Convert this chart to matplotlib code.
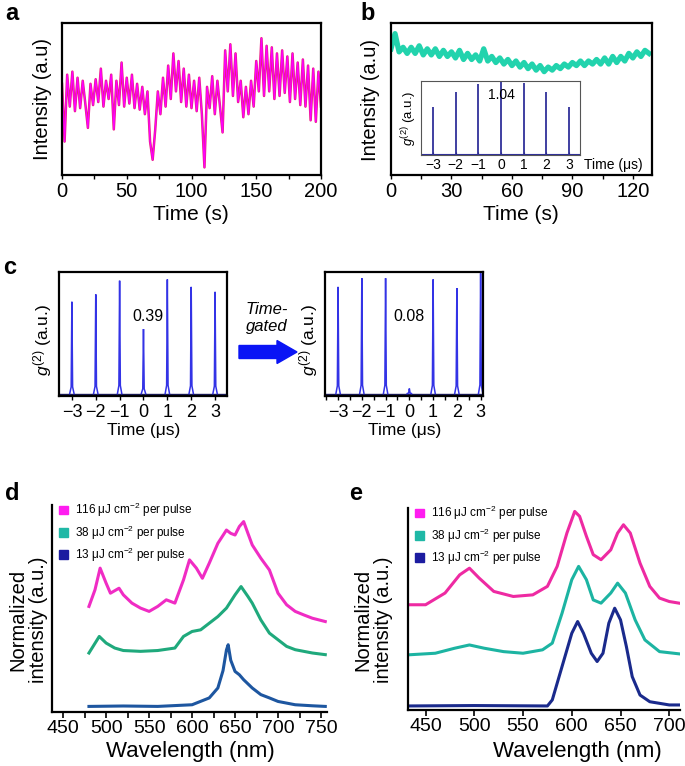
import matplotlib.pyplot as plt
from matplotlib.patches import Patch, FancyArrow
from matplotlib.ticker import MultipleLocator

plt.rcParams['font.family'] = ['Liberation Sans', 'DejaVu Sans']
plt.rcParams['mathtext.fontset'] = 'custom'
plt.rcParams['mathtext.rm'] = 'Liberation Sans'
plt.rcParams['mathtext.it'] = 'Liberation Sans:italic'

W, H = 685, 766

# ---- data (intensities normalised to axis height) ----
# a: blinking trace
a_time = list(range(0, 201, 2))
a_int = [0.60, 0.22, 0.66, 0.45, 0.68, 0.42, 0.64, 0.44, 0.62, 0.47,
         0.31, 0.60, 0.46, 0.63, 0.48, 0.70, 0.45, 0.62, 0.50, 0.66,
         0.30, 0.62, 0.46, 0.74, 0.45, 0.64, 0.47, 0.66, 0.44, 0.60,
         0.43, 0.58, 0.40, 0.55, 0.22, 0.10, 0.30, 0.55, 0.40, 0.64,
         0.45, 0.72, 0.50, 0.80, 0.55, 0.75, 0.48, 0.70, 0.45, 0.66,
         0.44, 0.62, 0.42, 0.64, 0.40, 0.05, 0.58, 0.44, 0.65, 0.40,
         0.62, 0.45, 0.28, 0.82, 0.55, 0.86, 0.52, 0.80, 0.48, 0.62,
         0.38, 0.58, 0.40, 0.62, 0.45, 0.75, 0.55, 0.90, 0.52, 0.85,
         0.55, 0.84, 0.50, 0.80, 0.52, 0.82, 0.54, 0.78, 0.48, 0.80,
         0.50, 0.74, 0.46, 0.76, 0.45, 0.72, 0.36, 0.70, 0.35, 0.68,
         0.45]

# b: stable trace
b_time = list(range(0, 129, 2))
b_int = [0.83, 0.93, 0.81, 0.84, 0.80, 0.84, 0.80, 0.85, 0.79, 0.83,
         0.79, 0.83, 0.78, 0.82, 0.78, 0.81, 0.77, 0.82, 0.76, 0.80,
         0.76, 0.79, 0.75, 0.83, 0.75, 0.78, 0.74, 0.77, 0.73, 0.76,
         0.72, 0.75, 0.71, 0.74, 0.70, 0.73, 0.69, 0.72, 0.68, 0.71,
         0.69, 0.72, 0.70, 0.73, 0.71, 0.74, 0.72, 0.75, 0.72, 0.75,
         0.73, 0.76, 0.73, 0.77, 0.73, 0.78, 0.74, 0.78, 0.75, 0.80,
         0.77, 0.81, 0.78, 0.82, 0.80]

# g2 peaks
delay = [-3, -2, -1, 0, 1, 2, 3]
b_g2 = [0.65, 0.85, 0.96, 0.99, 0.97, 0.85, 0.65]
c_g2_before = [0.76, 0.82, 0.93, 0.54, 0.94, 0.88, 0.84]
c_g2_after = [0.88, 0.95, 0.95, 0.06, 0.94, 0.87, 0.99]

# d: spectra (wavelength nm, normalised intensity)
d_wl_hi = [480, 487, 493, 500, 505, 515, 520, 530, 540, 550, 560, 570, 580, 590,
           597, 605, 612, 620, 630, 640, 645, 650, 655, 660, 665, 670, 680, 690,
           700, 710, 720, 730, 740, 755]
d_hi = [0.51, 0.59, 0.695, 0.622, 0.574, 0.598, 0.566, 0.526, 0.502, 0.486,
        0.51, 0.542, 0.526, 0.638, 0.735, 0.695, 0.646, 0.719, 0.815, 0.879,
        0.863, 0.855, 0.896, 0.92, 0.863, 0.807, 0.743, 0.686, 0.574, 0.518,
        0.486, 0.469, 0.453, 0.437]
d_wl_mid = [480, 492, 500, 510, 520, 540, 560, 580, 590, 600, 610, 620, 630, 640,
            650, 657, 665, 670, 680, 690, 700, 710, 720, 740, 755]
d_mid = [0.285, 0.365, 0.333, 0.309, 0.297, 0.293, 0.297, 0.309, 0.365, 0.389,
         0.397, 0.429, 0.461, 0.502, 0.566, 0.606, 0.558, 0.526, 0.445, 0.381,
         0.349, 0.317, 0.301, 0.285, 0.277]
d_wl_lo = [480, 520, 560, 600, 620, 630, 636, 640, 642, 645, 650, 655, 660, 670,
           680, 690, 700, 720, 740, 755]
d_lo = [0.027, 0.029, 0.027, 0.035, 0.068, 0.116, 0.20, 0.30, 0.325, 0.25,
        0.196, 0.18, 0.156, 0.116, 0.084, 0.068, 0.051, 0.035, 0.03, 0.027]

# e: spectra
e_wl_hi = [432, 450, 470, 485, 495, 505, 520, 540, 560, 575, 585, 595, 603, 608,
           615, 622, 630, 640, 647, 653, 660, 670, 680, 690, 700, 710]
e_hi = [0.521, 0.521, 0.579, 0.669, 0.702, 0.653, 0.587, 0.562, 0.57, 0.612,
        0.711, 0.876, 0.983, 0.959, 0.86, 0.769, 0.744, 0.793, 0.876, 0.917,
        0.876, 0.727, 0.612, 0.554, 0.537, 0.529]
e_wl_mid = [432, 460, 480, 495, 510, 530, 550, 570, 580, 590, 600, 607, 615, 622,
            630, 640, 647, 655, 665, 675, 690, 710]
e_mid = [0.273, 0.281, 0.306, 0.322, 0.306, 0.289, 0.281, 0.298, 0.331, 0.479,
         0.645, 0.711, 0.645, 0.545, 0.529, 0.579, 0.628, 0.579, 0.446, 0.347,
         0.289, 0.278]
e_wl_lo = [432, 500, 575, 580, 590, 600, 606, 612, 620, 626, 632, 638, 644, 650,
           656, 662, 670, 680, 700, 710]
e_lo = [0.02, 0.022, 0.02, 0.05, 0.215, 0.38, 0.438, 0.38, 0.281, 0.24,
        0.281, 0.43, 0.504, 0.446, 0.314, 0.165, 0.074, 0.041, 0.025, 0.025]

legend_labels = ['116 \u03bcJ cm$^{-2}$ per pulse', '38 \u03bcJ cm$^{-2}$ per pulse',
                 '13 \u03bcJ cm$^{-2}$ per pulse']
legend_colors = ['#ff1cf0', '#1fb8a6', '#1c1ca0']
delay_labels = ['\u22123', '\u22122', '\u22121', '0', '1', '2', '3']


def rect(l, t, r, b):
    return [l / W, 1 - b / H, (r - l) / W, (b - t) / H]


def ftext(x, y, s, **kw):
    fig.text(x / W, 1 - y / H, s, **kw)


def draw_peaks(ax, pos, heights, color, base=0.02, lw=1.0):
    for p, h in zip(pos, heights):
        ax.plot([p - 0.09, p - 0.03, p, p + 0.03, p + 0.09],
                [base, base + 0.07 * h, h, base + 0.07 * h, base],
                color=color, lw=lw, solid_joinstyle='miter')


fig = plt.figure(figsize=(W / 100, H / 100), dpi=100)

# ---- a ----
ax = fig.add_axes(rect(62, 23, 321, 175))
ax.plot(a_time, a_int, color='#e8207c', lw=1.8)
ax.plot(a_time, a_int, color='#ff00ff', lw=0.9)
ax.set_xlim(0, 200)
ax.set_ylim(0, 1)
ax.set_yticks([])
ax.set_xticks([0, 50, 100, 150, 200])
ax.xaxis.set_minor_locator(MultipleLocator(25))
ax.tick_params(axis='x', which='both', direction='out', length=3, width=1, labelsize=14.5, pad=2)
for s in ax.spines.values():
    s.set_linewidth(1.6)
ftext(191, 214, 'Time (s)', fontsize=15, ha='center', va='center')
ftext(42, 99, 'Intensity (a.u)', fontsize=14.5, ha='center', va='center', rotation=90)
ftext(12, 14, 'a', fontsize=17, fontweight='bold', ha='center', va='center')

# ---- b ----
ax = fig.add_axes(rect(391, 23, 652, 175))
ax.plot(b_time, b_int, color='#22d3ad', lw=3.8)
ax.set_xlim(0, 129.5)
ax.set_ylim(0, 1)
ax.set_yticks([])
ax.set_xticks([0, 30, 60, 90, 120])
ax.xaxis.set_minor_locator(MultipleLocator(15))
ax.tick_params(axis='x', which='both', direction='out', length=3, width=1, labelsize=14.5, pad=2)
for s in ax.spines.values():
    s.set_linewidth(1.6)
ftext(521, 214, 'Time (s)', fontsize=15, ha='center', va='center')
ftext(370, 100, 'Intensity (a.u)', fontsize=14.5, ha='center', va='center', rotation=90)
ftext(368, 14, 'b', fontsize=17, fontweight='bold', ha='center', va='center')

ins = fig.add_axes(rect(421, 81, 580, 155))
ins.vlines(delay, 0, b_g2, color='#30309a', lw=1.3)
ins.axhline(0.01, color='#30309a', lw=0.8)
ins.set_xlim(-3.53, 3.48)
ins.set_ylim(0, 1)
ins.set_yticks([])
ins.set_xticks(delay)
ins.set_xticklabels(delay_labels)
ins.tick_params(axis='x', direction='in', length=2, labelsize=10, pad=2)
for s in ins.spines.values():
    s.set_linewidth(0.8)
    s.set_color('#555555')
ins.text(0.0, 0.81, '1.04', fontsize=10, ha='center', va='center')
ftext(584, 165, 'Time (\u03bcs)', fontsize=10, ha='left', va='center')
ftext(409, 118, '$g^{(2)}$ (a.u.)', fontsize=9.5, ha='center', va='center', rotation=90)

# ---- c ----
for (l, r, xr, vals, txt, txt_x, minor) in [
        (59, 227, (-3.54, 3.5), c_g2_before, '0.39', 0.18, False),
        (325, 483, (-3.55, 3.1), c_g2_after, '0.08', -0.02, True)]:
    ax = fig.add_axes(rect(l, 272, r, 396))
    ax.axhline(0.015, color='#1a1a5a', lw=1.0)
    draw_peaks(ax, delay, vals, '#3333e6', lw=1.1)
    ax.set_xlim(*xr)
    ax.set_ylim(0, 1)
    ax.set_yticks([])
    ax.set_xticks(delay)
    ax.set_xticklabels(delay_labels)
    if minor:
        ax.xaxis.set_minor_locator(MultipleLocator(0.5))
    ax.tick_params(axis='x', which='both', direction='out', length=3, width=1, labelsize=13, pad=3)
    for s in ax.spines.values():
        s.set_linewidth(1.6)
    ax.text(txt_x, 0.64, txt, fontsize=11.5, ha='center', va='center')
    ftext((l + r) / 2 + 0.5, 430, 'Time (\u03bcs)', fontsize=12.5, ha='center', va='center')
    ftext(l - 16, 340, '$g^{(2)}$ (a.u.)', fontsize=12.5, ha='center', va='center', rotation=90)

ftext(10, 267, 'c', fontsize=17, fontweight='bold', ha='center', va='center')
ftext(267, 318, 'Time-\ngated', fontsize=12, style='italic', ha='center', va='center',
      linespacing=1.2)
fig.patches.append(FancyArrow(239 / W, 1 - 352 / H, 38 / W, 0, width=13 / H,
                              head_width=23 / H, head_length=20 / W,
                              length_includes_head=False, color='#0a14f5',
                              transform=fig.transFigure, figure=fig))

# ---- d ----
ax = fig.add_axes(rect(52, 505, 327, 712))
ax.plot(d_wl_hi, d_hi, color='#f02cc4', lw=2.2)
ax.plot(d_wl_mid, d_mid, color='#1fa97c', lw=2.2)
ax.plot(d_wl_lo, d_lo, color='#1d56a0', lw=2.2)
ax.set_xlim(437, 757)
ax.set_ylim(0, 1)
ax.set_yticks([])
ax.set_xticks(range(450, 751, 50))
ax.xaxis.set_minor_locator(MultipleLocator(25))
ax.tick_params(axis='x', which='both', direction='out', length=4, width=1.2, labelsize=14, pad=2)
for k in ['top', 'right']:
    ax.spines[k].set_visible(False)
for k in ['left', 'bottom']:
    ax.spines[k].set_linewidth(1.6)
ax.legend(handles=[Patch(color=c) for c in legend_colors], labels=legend_labels,
          loc='upper left', bbox_to_anchor=(59 / W, 1 - 501 / H),
          bbox_transform=fig.transFigure, frameon=False, fontsize=8.5,
          handlelength=0.75, handleheight=0.75, handletextpad=0.6,
          labelspacing=0.35, borderpad=0, borderaxespad=0)
ftext(190, 751, 'Wavelength (nm)', fontsize=16, ha='center', va='center')
ftext(28, 620, 'Normalized\nintensity (a.u.)', fontsize=14.5, ha='center', va='center',
      rotation=90, linespacing=1.1)
ftext(12, 494, 'd', fontsize=17, fontweight='bold', ha='center', va='center')

# ---- e ----
ax = fig.add_axes(rect(408, 508, 680, 710))
ax.plot(e_wl_hi, e_hi, color='#ee2aa2', lw=2.2)
ax.plot(e_wl_mid, e_mid, color='#1cb4a2', lw=2.2)
ax.plot(e_wl_lo, e_lo, color='#1a2a8c', lw=2.2)
ax.set_xlim(432, 711)
ax.set_ylim(0, 1)
ax.set_yticks([])
ax.set_xticks(range(450, 701, 50))
ax.tick_params(axis='x', direction='out', length=4, width=1.2, labelsize=14, pad=2)
for k in ['top', 'right']:
    ax.spines[k].set_visible(False)
for k in ['left', 'bottom']:
    ax.spines[k].set_linewidth(1.6)
ax.legend(handles=[Patch(color=c) for c in legend_colors], labels=legend_labels,
          loc='upper left', bbox_to_anchor=(415 / W, 1 - 504 / H),
          bbox_transform=fig.transFigure, frameon=False, fontsize=8.5,
          handlelength=0.75, handleheight=0.75, handletextpad=0.6,
          labelspacing=0.35, borderpad=0, borderaxespad=0)
ftext(577, 751, 'Wavelength (nm)', fontsize=16, ha='center', va='center')
ftext(373, 620, 'Normalized\nintensity (a.u.)', fontsize=14.5, ha='center', va='center',
      rotation=90, linespacing=1.1)
ftext(356, 494, 'e', fontsize=17, fontweight='bold', ha='center', va='center')

fig.savefig('out.png', dpi=100)
